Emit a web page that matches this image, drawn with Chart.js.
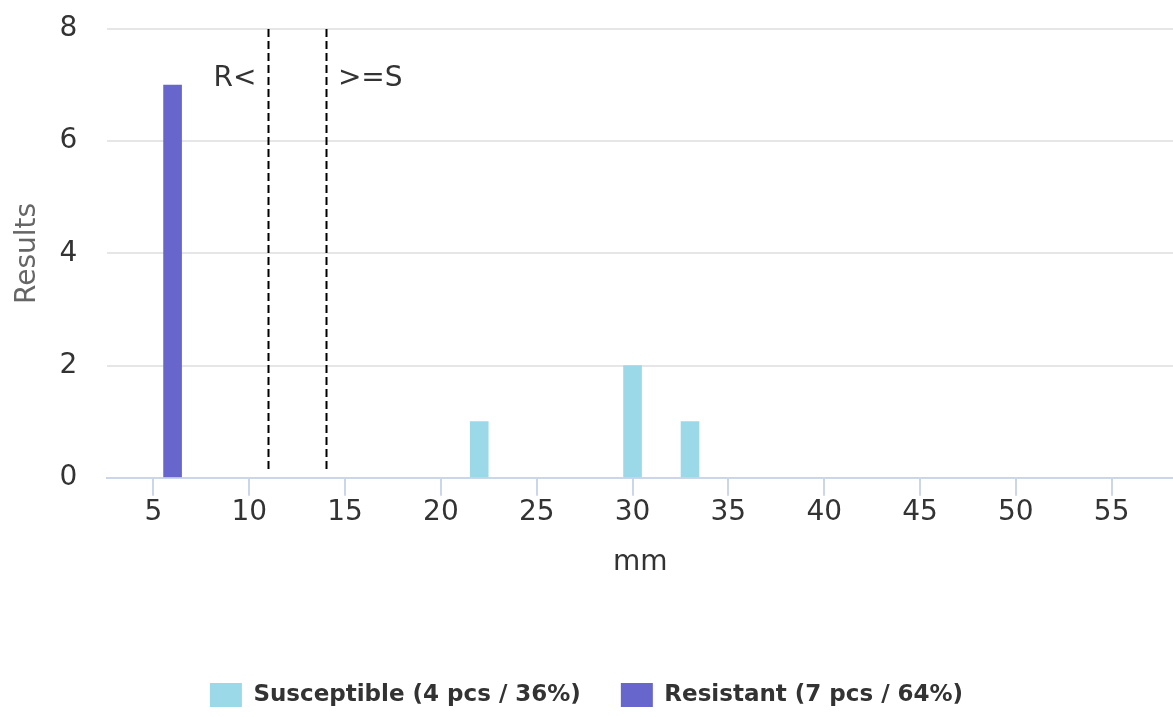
<!DOCTYPE html>
<html>
<head>
<meta charset="utf-8">
<script src="https://cdn.jsdelivr.net/npm/chart.js@4"></script>
<style>
  html, body { margin: 0; padding: 0; background: #fff; }
  #wrap { width: 1173px; height: 717px; }
</style>
</head>
<body>
<div id="wrap"><canvas id="chart"></canvas></div>
<script>
// Datos
const seriesNames = ['Susceptible (4 pcs / 36%)', 'Resistant (7 pcs / 64%)'];
const susceptibleMm = [22, 30, 33];
const susceptibleCounts = [1, 2, 1];
const resistantMm = [6];
const resistantCounts = [7];
const breakpointMm = [11, 14];
const breakpointLabels = ['R<', '>=S'];

const toPoints = (xs, ys) => xs.map((x, i) => ({ x: x, y: ys[i] }));

// Líneas de corte discontinuas con sus etiquetas
const breakpointPlugin = {
  id: 'breakpoints',
  afterDatasetsDraw(chart) {
    const { ctx, chartArea, scales } = chart;
    const bottom = scales.y.getPixelForValue(0) - 8;
    ctx.save();
    ctx.strokeStyle = '#000';
    ctx.lineWidth = 2;
    ctx.setLineDash([8, 4]);
    breakpointMm.forEach((v) => {
      const px = Math.round(scales.x.getPixelForValue(v)) + 0.5;
      ctx.beginPath();
      ctx.moveTo(px, chartArea.top);
      ctx.lineTo(px, bottom);
      ctx.stroke();
    });
    ctx.setLineDash([]);
    ctx.fillStyle = '#333';
    ctx.font = '28px "DejaVu Sans"';
    ctx.textBaseline = 'middle';
    breakpointMm.forEach((v, i) => {
      const px = scales.x.getPixelForValue(v);
      ctx.textAlign = i === 0 ? 'right' : 'left';
      ctx.fillText(breakpointLabels[i], i === 0 ? px - 12 : px + 12, chartArea.top + 50);
    });
    ctx.restore();
  }
};

new Chart(document.getElementById('chart'), {
  type: 'bar',
  data: {
    datasets: [{
      label: seriesNames[0],
      data: toPoints(susceptibleMm, susceptibleCounts),
      backgroundColor: '#9BD9E9',
      borderWidth: 0,
      barThickness: 18,
      grouped: false
    }, {
      label: seriesNames[1],
      data: toPoints(resistantMm, resistantCounts),
      backgroundColor: '#6666CC',
      borderWidth: 0,
      barThickness: 18,
      grouped: false
    }]
  },
  options: {
    responsive: true,
    maintainAspectRatio: false,
    animation: false,
    layout: { padding: { top: 29, right: 0, bottom: 0, left: 0 } },
    plugins: {
      tooltip: { enabled: false },
      legend: {
        position: 'bottom',
        labels: {
          boxWidth: 32,
          boxHeight: 24,
          padding: 40,
          color: '#333',
          font: { family: 'DejaVu Sans', size: 23, weight: 'bold' }
        }
      }
    },
    scales: {
      x: {
        type: 'linear',
        min: 2.6,
        max: 58.2,
        offset: false,
        ticks: {
          stepSize: 5,
          includeBounds: false,
          padding: 0,
          color: '#333',
          font: { family: 'DejaVu Sans', size: 28 }
        },
        grid: {
          offset: false,
          drawOnChartArea: false,
          drawTicks: true,
          tickLength: 18,
          color: '#ccd6eb',
          lineWidth: 2
        },
        border: { color: '#ccd6eb', width: 2 },
        title: {
          display: true,
          text: 'mm',
          color: '#333',
          font: { family: 'DejaVu Sans', size: 28 },
          padding: { top: 17, bottom: 63 }
        }
      },
      y: {
        min: 0,
        max: 8,
        ticks: {
          stepSize: 2,
          padding: 0,
          color: '#333',
          font: { family: 'DejaVu Sans', size: 28 }
        },
        grid: {
          drawTicks: true,
          tickLength: 30,
          tickColor: 'rgba(0,0,0,0)',
          color: '#e6e6e6',
          lineWidth: 2
        },
        border: { display: false },
        title: {
          display: true,
          text: 'Results',
          color: '#666',
          font: { family: 'DejaVu Sans', size: 28 },
          padding: { top: 11, bottom: 15 }
        }
      }
    }
  },
  plugins: [breakpointPlugin]
});
</script>
</body>
</html>
